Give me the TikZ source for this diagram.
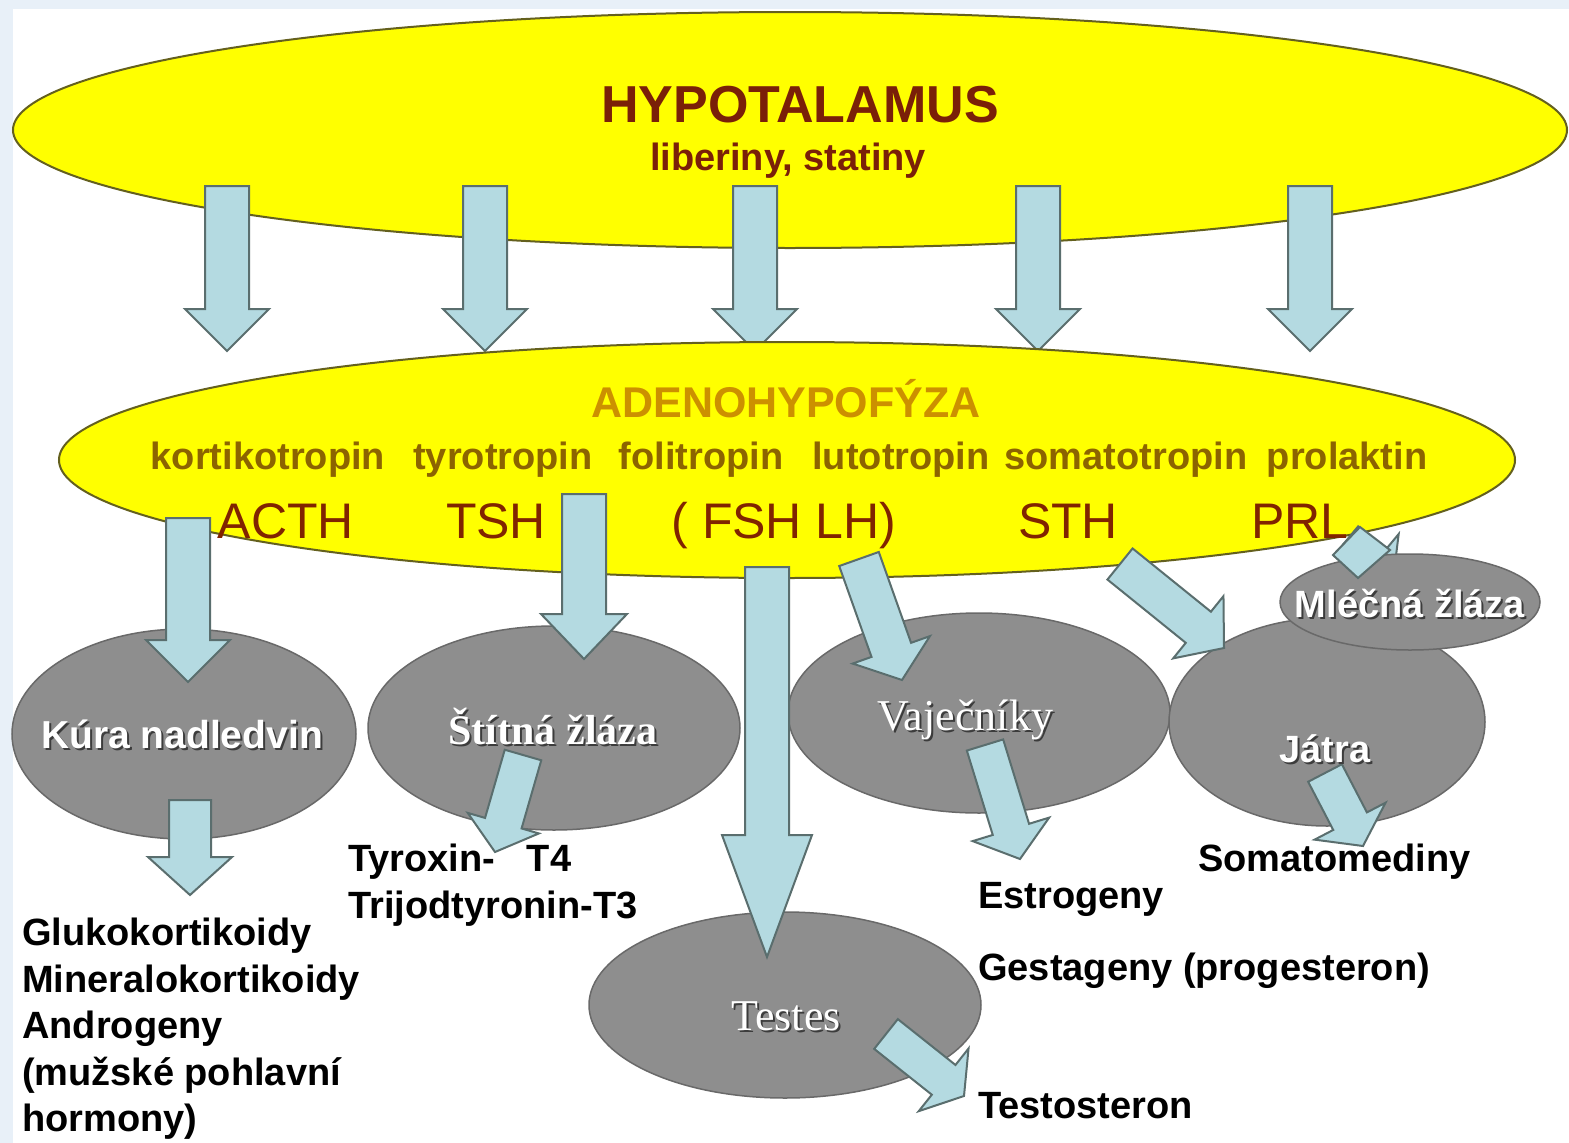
\documentclass[tikz,border=0pt]{standalone}
\usepackage{fontspec}
\setmainfont{Liberation Sans}
\newfontfamily\sansf{Liberation Sans}
\newfontfamily\seriff{Liberation Serif}
\usetikzlibrary{calc,shapes.geometric}

\definecolor{yel}{RGB}{255,255,0}
\definecolor{yelborder}{RGB}{100,96,30}
\definecolor{hypoc}{RGB}{122,32,8}
\definecolor{adenoc}{RGB}{204,144,0}
\definecolor{tropinc}{RGB}{140,100,0}
\definecolor{abbrc}{RGB}{128,36,0}
\definecolor{arrfill}{RGB}{180,218,225}
\definecolor{arrdraw}{RGB}{90,110,110}
\definecolor{grayfill}{RGB}{142,142,142}
\definecolor{graydraw}{RGB}{105,105,105}
\definecolor{bgblue}{RGB}{232,240,248}
\definecolor{shadowc}{RGB}{60,60,60}

\newcommand{\fsz}[1]{\fontsize{#1}{#1}\selectfont}

\tikzset{
  yellowell/.style={ellipse, fill=yel, draw=yelborder, line width=2pt, inner sep=0pt},
  grayell/.style={ellipse, fill=grayfill, draw=graydraw, line width=1.5pt, inner sep=0pt},
  arrowbox/.style={fill=arrfill, draw=arrdraw, line width=2pt, line join=miter},
  lbl/.style={anchor=base west, inner sep=0pt, font=\sansf\bfseries\fsz{38}, text=black},
  tropin/.style={anchor=base, inner sep=0pt, font=\sansf\bfseries\fsz{38}, text=tropinc},
  abbr/.style={anchor=base, inner sep=0pt, font=\sansf\fsz{50}, text=abbrc},
}

% block arrow: #1 start, #2 tip, #3 half shaft width, #4 half head width, #5 head length
\newcommand{\blockarrow}[5]{%
  \coordinate (bah) at ($(#2)!#5!(#1)$);
  \draw[arrowbox] ($(#1)!#3!90:(#2)$) -- ($(bah)!#3!-90:(#1)$) -- ($(bah)!#4!-90:(#1)$)
     -- (#2) -- ($(bah)!#4!90:(#1)$) -- ($(bah)!#3!90:(#1)$) -- ($(#1)!#3!-90:(#2)$) -- cycle;
}

% white text with dark shadow
\newcommand{\gtext}[5]{%
  \node[anchor=base, inner sep=0pt, text=shadowc, font=#4] (#1s) at (#2+2,#3+2) {#5};
  \node[anchor=base, inner sep=0pt, text=white, font=#4] (#1) at (#2,#3) {#5};
}

\begin{document}
\begin{tikzpicture}[x=1pt,y=-1pt]
\fill[bgblue] (0,0) rectangle (1569,1143);
\fill[white] (13,9) rectangle (1569,1143);
\useasboundingbox (0,0) rectangle (1569,1143);

% ---- hypothalamus
\node[yellowell, minimum width=1554pt, minimum height=236pt] (hypo) at (790,130) {};

% ---- top arrows
\foreach \n/\x in {1/227,2/485,3/755,4/1038,5/1310}{
  \coordinate (t\n s) at (\x,186);
  \coordinate (t\n e) at (\x,351);
  \blockarrow{t\n s}{t\n e}{22pt}{42pt}{42pt}
}

% ---- adenohypofyza
\node[yellowell, minimum width=1456pt, minimum height=236pt] (adeno) at (787,460) {};

% ---- gray glands
\node[grayell, minimum width=344pt, minimum height=210pt] (kura) at (184,734) {};
\node[grayell, minimum width=372pt, minimum height=204pt] (stit) at (554,728) {};
\node[grayell, minimum width=382pt, minimum height=200pt] (vaj) at (979,713) {};
\node[grayell, minimum width=316pt, minimum height=208pt] (jatra) at (1327,722) {};
\node[grayell, minimum width=392pt, minimum height=186pt] (testes) at (785,1005) {};

% ---- lower arrows
\coordinate (a1s) at (188,518);  \coordinate (a1e) at (188,682);
\coordinate (a2s) at (190,800);  \coordinate (a2e) at (190,895);
\coordinate (a3s) at (584,494);  \coordinate (a3e) at (584,659);
\coordinate (a4s) at (523,755);  \coordinate (a4e) at (495,852);
\coordinate (a5s) at (767,567);  \coordinate (a5e) at (767,957);
\coordinate (a6s) at (859,559);  \coordinate (a6e) at (902,680);
\coordinate (a7s) at (985,745);  \coordinate (a7e) at (1020,859);
\coordinate (a8s) at (1120,564); \coordinate (a8e) at (1224,648);
\coordinate (a9s) at (1346,541); \coordinate (a9e) at (1393,580);
\coordinate (a10s) at (1325,773); \coordinate (a10e) at (1363,846);
\coordinate (a11s) at (886,1034); \coordinate (a11e) at (964,1096);

\blockarrow{a9s}{a9e}{19pt}{39pt}{25pt}
\node[grayell, minimum width=260pt, minimum height=96pt] (mlec) at (1410,602) {};
\draw[arrowbox] (1360,527) -- (1390,550) -- (1358,578) -- (1333,555) -- cycle;

\blockarrow{a1s}{a1e}{22pt}{42pt}{42pt}
\blockarrow{a2s}{a2e}{21pt}{42pt}{38pt}
\blockarrow{a3s}{a3e}{22pt}{43pt}{45pt}
\blockarrow{a4s}{a4e}{19pt}{37pt}{30pt}
\blockarrow{a5s}{a5e}{22pt}{45pt}{122pt}
\blockarrow{a6s}{a6e}{21pt}{41pt}{32pt}
\blockarrow{a7s}{a7e}{19pt}{40pt}{31pt}
\blockarrow{a8s}{a8e}{20pt}{40pt}{33pt}
\blockarrow{a10s}{a10e}{19pt}{40pt}{28pt}
\blockarrow{a11s}{a11e}{19pt}{40pt}{26pt}

% ---- texts in yellow ellipses
\node[anchor=base, inner sep=0pt, text=hypoc, font=\sansf\bfseries\fsz{52}] (thypo) at (800,122) {HYPOTALAMUS};
\node[anchor=base, inner sep=0pt, text=hypoc, font=\sansf\bfseries\fsz{38}] (tlib) at (788,170) {liberiny, statiny};
\node[anchor=base, inner sep=0pt, text=adenoc, font=\sansf\bfseries\fsz{43}] (tadeno) at (786,417) {ADENOHYPOFÝZA};

\node[tropin] (w1) at (268,469) {kortikotropin};
\node[tropin] (w2) at (503,469) {tyrotropin};
\node[tropin] (w3) at (701,469) {folitropin};
\node[tropin] (w4) at (901,469) {lutotropin};
\node[tropin] (w5) at (1126,469) {somatotropin};
\node[tropin] (w6) at (1347,469) {prolaktin};

\node[abbr] (acth) at (286,538) {ACTH};
\node[abbr] (tsh) at (496,538) {TSH};
\node[abbr] (fshlh) at (784,538) {( FSH LH)};
\node[abbr] (sth) at (1068,538) {STH};
\node[abbr] (prl) at (1300,538) {PRL};

% ---- gland names
\gtext{tkura}{182}{748}{\sansf\bfseries\fsz{39}}{Kúra nadledvin}
\gtext{tstit}{553}{744}{\seriff\bfseries\fsz{42}}{Štítná žláza}
\gtext{tvaj}{965}{730}{\seriff\fsz{44}}{Vaječníky}
\gtext{tjatra}{1325}{762}{\sansf\bfseries\fsz{38}}{Játra}
\gtext{tmlec}{1410}{617}{\sansf\bfseries\fsz{38}}{Mléčná žláza}
\gtext{ttestes}{786}{1030}{\seriff\fsz{44}}{Testes}

% ---- hormone labels
\node[lbl] (tyrox1) at (348,871) {Tyroxin-\ \ \ T4};
\node[lbl] (tyrox2) at (348,918) {Trijodtyronin-T3};
\node[lbl] (gluko1) at (22,945) {Glukokortikoidy};
\node[lbl] (gluko2) at (22,992) {Mineralokortikoidy};
\node[lbl] (gluko3) at (22,1038) {Androgeny};
\node[lbl] (gluko4) at (22,1085) {(mužské pohlavní};
\node[lbl] (gluko5) at (22,1131) {hormony)};
\node[lbl] (estro) at (978,908) {Estrogeny};
\node[lbl] (gesta) at (978,980) {Gestageny (progesteron)};
\node[lbl] (testo) at (978,1118) {Testosteron};
\node[lbl] (somato) at (1198,871) {Somatomediny};
\end{tikzpicture}
\end{document}
